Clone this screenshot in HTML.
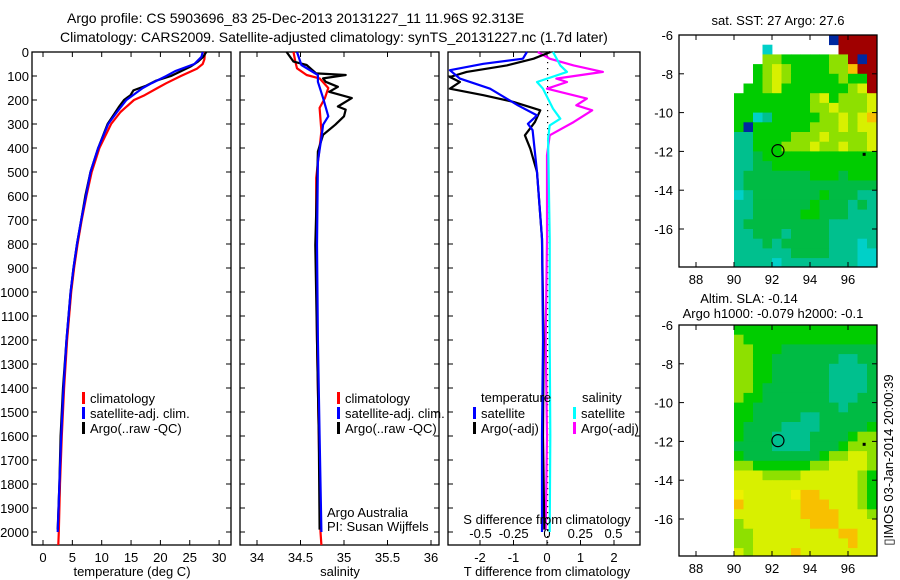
<!DOCTYPE html>
<html><head><meta charset="utf-8">
<style>
html,body{margin:0;padding:0;background:#fff;}
svg{display:block;font-family:"Liberation Sans",sans-serif;}
text{font-size:13px;fill:#000;}
</style></head>
<body>
<svg id="chart" width="900" height="580" viewBox="0 0 900 580" xmlns="http://www.w3.org/2000/svg">
<text x="67" y="23" style="font-size:14px">Argo profile: CS 5903696_83 25-Dec-2013 20131227_11 11.96S 92.313E</text>
<text x="60" y="42" style="font-size:14px">Climatology: CARS2009. Satellite-adjusted climatology: synTS_20131227.nc (1.7d later)</text>
<g id="g1"></g>
<g id="g2"></g>
<g id="g3"></g>
<g id="m1"></g>
<g id="m2"></g>
<text x="778" y="25" text-anchor="middle">sat. SST: 27 Argo: 27.6</text>
<text x="749" y="303" text-anchor="middle">Altim. SLA: -0.14</text>
<text x="773" y="318" text-anchor="middle">Argo h1000: -0.079 h2000: -0.1</text>
<text transform="translate(893,460) rotate(-90)" text-anchor="middle">▯IMOS 03-Jan-2014 20:00:39</text>
<text x="132" y="576" text-anchor="middle">temperature (deg C)</text>
<text x="340" y="576" text-anchor="middle">salinity</text>
<text x="547" y="576" text-anchor="middle">T difference from climatology</text>
<text x="547" y="524" text-anchor="middle">S difference from climatology</text>
<text x="327" y="517">Argo Australia</text>
<text x="327" y="531">PI: Susan Wijffels</text>
</svg>
<script>
const tClimDepth = [0,30,50,70,100,130,150,180,200,250,300,400,500,600,700,800,900,1000,1200,1400,1600,1800,2000,2054];
const tClimVal   = [27.6,27.5,27.2,26.2,23.5,21,19.5,17.3,15.5,13.2,11.6,9.6,8.3,7.4,6.6,5.9,5.3,4.8,4.1,3.6,3.2,2.9,2.7,2.6];
const tSatDepth  = [0,20,50,80,100,130,150,200,250,300,400,500,600,700,800,900,1000,1200,1400,1600,1800,2000];
const tSatVal    = [27.2,27.0,25.8,22.5,21,18.5,17,14.2,12.6,11.1,9.4,8.1,7.3,6.5,5.8,5.2,4.7,4.0,3.5,3.1,2.8,2.5];
const tArgoDepth = [0,20,40,60,80,100,120,140,160,180,200,230,260,300,400,500,600,700,800,900,1000,1200,1400,1600,1800,1990];
const tArgoVal   = [27.8,27.3,26.4,25.2,23.5,21.8,19.2,17.6,15.4,14.9,13.8,12.9,12.1,11.0,9.4,8.1,7.2,6.5,5.8,5.2,4.7,4.0,3.4,3.0,2.8,2.5];

const sClimDepth = [0,40,68,96,110,150,192,233,330,525,800,1200,1600,2000,2054];
const sClimVal   = [34.42,34.44,34.46,34.57,34.72,34.82,34.78,34.72,34.74,34.68,34.68,34.69,34.71,34.73,34.74];
const sSatDepth  = [0,54,96,124,192,268,303,358,455,804,1200,1600,2000];
const sSatVal    = [34.46,34.51,34.70,34.70,34.76,34.82,34.76,34.74,34.70,34.69,34.70,34.72,34.74];
const sArgoDepth = [0,40,54,89,96,110,124,145,166,192,227,240,268,303,345,414,804,1200,1600,1990];
const sArgoVal   = [34.34,34.42,34.57,34.68,35.02,34.76,34.79,34.93,34.83,35.09,34.93,35.02,35.00,34.90,34.76,34.70,34.67,34.69,34.71,34.72];

const dTSatDepth = [0,28,49,76,111,153,222,264,299,326,500,778,1200,1600,2000];
const dTSatVal   = [-0.6,-0.72,-1.9,-2.9,-2.6,-1.7,-0.87,-0.3,-0.57,-0.43,-0.3,-0.15,-0.12,-0.15,-0.15];
const dTArgoDepth= [0,28,56,83,104,125,153,180,208,243,292,347,403,500,778,1200,1600,1990];
const dTArgoVal  = [0.1,-0.4,-1.2,-2.4,-2.9,-2.6,-2.9,-1.9,-1.0,-0.2,-0.36,-0.66,-0.5,-0.3,-0.15,-0.1,-0.12,-0.08];
const dSSatDepth = [0,56,83,125,153,236,278,306,361,778,1200,1600,2000];
const dSSatVal   = [0.045,0.1,0.15,-0.075,-0.03,0.045,0.1,0.02,0.008,0.02,0.02,0.025,0.02];
const dSArgoDepth= [0,28,56,83,111,125,153,194,222,243,292,347,431,778,1200,1600,1990];
const dSArgoVal  = [-0.07,0.02,0.2,0.42,0.07,0.15,0,0.3,0.22,0.34,0.2,0.02,0,0,-0.01,0,-0.01];

const depthTicks = [0,100,200,300,400,500,600,700,800,900,1000,1100,1200,1300,1400,1500,1600,1700,1800,1900,2000];
const tTicks = [0,5,10,15,20,25,30];
const sTicks = [34,34.5,35,35.5,36];
const sTickLabels = ["34","34.5","35","35.5","36"];
const dTTicks = [-2,-1,0,1,2];
const dSTicks = [-0.5,-0.25,0,0.25,0.5];
const dSTickLabels = ["-0.5","-0.25","0","0.25","0.5"];
const latTicks = [-6,-8,-10,-12,-14,-16];
const lonTicks = [88,90,92,94,96];

const sstRows = [
"..........BRRRR",
"...C.......RRRR",
"...LLGGGGGLLRBR",
"..GLYLGGGGLLORR",
"..GLYLGGGGGLGGR",
".GGLYGGGGGGGLYR",
"GGGGGGGGLYGLLLY",
"GGGGGGGGLLYLLLY",
"GGCTGGGGGLLYLYO",
"GBGGGGGGLLLYLYY",
"TTGGGGLLLYLLLLY",
"TTGGGLLLYLLYLLY",
"TTgGGGGGGGGGGGG",
"TTggGGGGGGGGGGG",
"TgggggggGGGgGGG",
"Tgggggggggggggg",
"CTgggggggGgggTT",
"TTggggggGgggTgT",
"TTgggggGGgggTTT",
"TgggggggggTTTTT",
"TTgggTggggTTTTT",
"TTTgTgggggTTTCT",
"TTTTTTggggTTTCC",
"TTTTCTTTTTTTTCC"];
const slaRows = [
"GGGGGGGGGGGGGGG",
"LGGGGGGGGGGGGGG",
"LLGGGgggggggggg",
"LLGGgggggggTTgg",
"LLGGggggggTTTTg",
"LLGGggggggTTTTg",
"LLGgggggggTTTTg",
"LGGgggggggTTTgg",
"GGgggggggggTggg",
"GGgggggTTgggggg",
"GggggTTTTgggggG",
"GgggTTTTggggGLL",
"ggggTTTTgggGLLL",
"GggggggggGLLYYL",
"LLGGGGGGLLYYYYL",
"YYYLLLLYYYYYYLG",
"YYYYYYYYYYYYYLG",
"yYYYYYyOOYYYYLG",
"OYYYYYYOOOYYYLG",
"YYYYYYYOOOOYYYL",
"LYYYYYYYOOOYYYY",
"LLYYYYYYYYYOOYY",
"LLYYYYYYYYYYOYY",
"YLYYYYOYYYYYYYY"];
const argoLon = 92.313, argoLat = -11.96;

const palette = {G:"#00cc00",g:"#00bb44",T:"#00c08e",C:"#00d0c8",L:"#8ee000",Y:"#d8f000",y:"#eef000",O:"#f8c000",R:"#a00000",B:"#0028a0"};
const NS="http://www.w3.org/2000/svg";
function mk(parent,tag,attrs){const e=document.createElementNS(NS,tag);for(const k in attrs)e.setAttribute(k,attrs[k]);parent.appendChild(e);return e;}

const pTop=52, pBot=545;
const yD = d => pTop + d*0.24;

function panel(g,left,right,xf,ticks,labels,showDepthLabels,name){
  const fr=mk(g,'rect',{x:left,y:pTop,width:right-left,height:pBot-pTop,fill:'none',stroke:'#000','stroke-width':1.3});
  
  
  depthTicks.forEach(d=>{
    const y=yD(d);
    mk(g,'line',{x1:left,x2:left+5,y1:y,y2:y,stroke:'#000'});
    mk(g,'line',{x1:right-5,x2:right,y1:y,y2:y,stroke:'#000'});
    if(showDepthLabels){
      const t=mk(g,'text',{x:left-3,y:y+5,'text-anchor':'end'});
      t.textContent=d;
      
      
    }
  });
  ticks.forEach((v,i)=>{
    const x=xf(v);
    mk(g,'line',{x1:x,x2:x,y1:pBot,y2:pBot-5,stroke:'#000'});
    mk(g,'line',{x1:x,x2:x,y1:pTop,y2:pTop+5,stroke:'#000'});
    const t=mk(g,'text',{x:x,y:pBot+17,'text-anchor':'middle'});
    t.textContent=labels[i];
    
    
  });
}
function line(g,depths,vals,xf,color,name){
  const pts=depths.map((d,i)=>xf(vals[i]).toFixed(1)+','+yD(d).toFixed(1)).join(' ');
  const p=mk(g,'polyline',{points:pts,fill:'none',stroke:color,'stroke-width':2.2,'stroke-linejoin':'round'});
  
  
}
function legend(g,x,y,color,label){
  mk(g,'rect',{x:x,y:y-10,width:3,height:12,fill:color});
  const t=mk(g,'text',{x:x+8,y:y+1});
  t.textContent=label;
  
  
}

const g1=document.getElementById('g1');
const xT = v => 43 + v*5.87;
panel(g1,32,231,xT,tTicks,tTicks.map(String),true,'temperature');
line(g1,tClimDepth,tClimVal,xT,'#ff0000','temp-climatology-line');
line(g1,tArgoDepth,tArgoVal,xT,'#000000','temp-argo-line');
line(g1,tSatDepth,tSatVal,xT,'#0000ff','temp-satellite-line');
legend(g1,82,402,'#ff0000','climatology');
legend(g1,82,417,'#0000ff','satellite-adj. clim.');
legend(g1,82,432,'#000000','Argo(..raw -QC)');

const g2=document.getElementById('g2');
const xS = v => 257 + (v-34)*87;
panel(g2,240,439,xS,sTicks,sTickLabels,false,'salinity');
line(g2,sClimDepth,sClimVal,xS,'#ff0000','sal-climatology-line');
line(g2,sArgoDepth,sArgoVal,xS,'#000000','sal-argo-line');
line(g2,sSatDepth,sSatVal,xS,'#0000ff','sal-satellite-line');
legend(g2,337,402,'#ff0000','climatology');
legend(g2,337,417,'#0000ff','satellite-adj. clim.');
legend(g2,337,432,'#000000','Argo(..raw -QC)');

const g3=document.getElementById('g3');
const xDT = v => 547 + v*33.5;
const xDS = v => 547 + v*133;
panel(g3,448,640,xDT,dTTicks,dTTicks.map(String),false,'t-diff');
for(let y=pTop+4;y<pBot;y+=6){mk(g3,'rect',{x:547,y:y,width:1.2,height:1.2,fill:'#000'});}
dSTicks.forEach((v,i)=>{
  const t=mk(g3,'text',{x:xDS(v),y:538,'text-anchor':'middle'});
  t.textContent=dSTickLabels[i];
  
  
});
line(g3,dSArgoDepth,dSArgoVal,xDS,'#ff00ff','s-diff-argo-line');
line(g3,dSSatDepth,dSSatVal,xDS,'#00ffff','s-diff-satellite-line');
line(g3,dTArgoDepth,dTArgoVal,xDT,'#000000','t-diff-argo-line');
line(g3,dTSatDepth,dTSatVal,xDT,'#0000ff','t-diff-satellite-line');
const th=mk(g3,'text',{x:481,y:402}); th.textContent='temperature';


const sh=mk(g3,'text',{x:582,y:402}); sh.textContent='salinity';


legend(g3,473,417,'#0000ff','satellite');
legend(g3,473,432,'#000000','Argo(-adj)');
legend(g3,573,417,'#00ffff','satellite');
legend(g3,573,432,'#ff00ff','Argo(-adj)');

function drawMap(g,mtop,mbot,rows,name){
  const left=679,right=877;
  const xL = lon => 696 + (lon-88)*19;
  const yL = lat => mtop + (-6-lat)*19.4;
  const cp=mk(g,'clipPath',{id:'clip-'+name});
  mk(cp,'rect',{x:left,y:mtop,width:right-left,height:mbot-mtop});
  const cg=mk(g,'g',{'clip-path':'url(#clip-'+name+')'});
  rows.forEach((r,ri)=>{
    for(let ci=0;ci<r.length;ci++){
      const c=r[ci]; if(!palette[c]) continue;
      const lon=90+ci*0.5, lat=-6-ri*0.5;
      const x0=xL(lon), y0=yL(lat);
      const cell=mk(cg,'rect',{x:x0.toFixed(1),y:y0.toFixed(1),width:(xL(lon+0.5)-x0+0.4).toFixed(1),height:(yL(lat-0.5)-y0+0.4).toFixed(1),fill:palette[c]});
      
      
    }
  });
  const fr=mk(g,'rect',{x:left,y:mtop,width:right-left,height:mbot-mtop,fill:'none',stroke:'#000','stroke-width':1.3});
  
  
  latTicks.forEach(l=>{
    const y=yL(l);
    mk(g,'line',{x1:left,x2:left+5,y1:y,y2:y,stroke:'#000'});
    mk(g,'line',{x1:right-5,x2:right,y1:y,y2:y,stroke:'#000'});
    const t=mk(g,'text',{x:left-6,y:y+5,'text-anchor':'end'}); t.textContent=l;
    
    
  });
  lonTicks.forEach(l=>{
    const x=xL(l);
    mk(g,'line',{x1:x,x2:x,y1:mbot,y2:mbot-5,stroke:'#000'});
    mk(g,'line',{x1:x,x2:x,y1:mtop,y2:mtop+5,stroke:'#000'});
    const t=mk(g,'text',{x:x,y:mbot+17,'text-anchor':'middle'}); t.textContent=l;
    
    
  });
  const c=mk(g,'circle',{cx:xL(argoLon),cy:yL(argoLat),r:6,fill:'none',stroke:'#000','stroke-width':1.2});
  
  
  mk(g,'rect',{x:xL(96.85)-1.5,y:yL(-12.15)-1.5,width:3,height:3,fill:'#000'});
}
drawMap(document.getElementById('m1'),35,267,sstRows,'sst-map');
drawMap(document.getElementById('m2'),325,556,slaRows,'sla-map');
</script>
</body></html>
